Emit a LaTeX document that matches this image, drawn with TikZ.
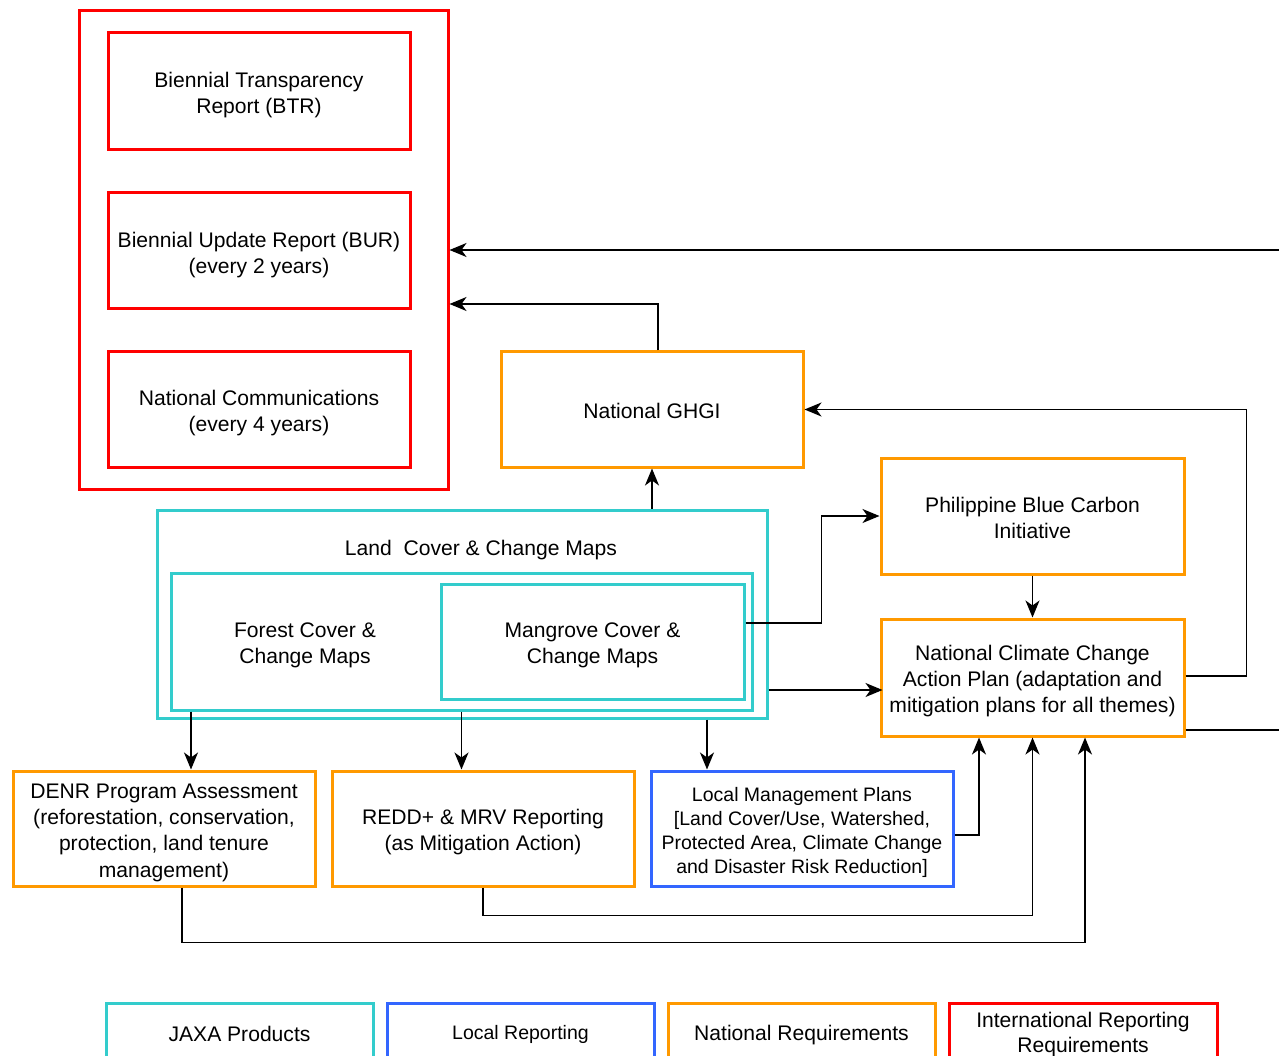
\documentclass[tikz,border=0pt]{standalone}
\usepackage{fontspec}
\setmainfont{Liberation Sans}
\usetikzlibrary{arrows.meta}
\definecolor{cred}{HTML}{FF0000}
\definecolor{corange}{HTML}{FF9900}
\definecolor{cteal}{HTML}{33CCCC}
\definecolor{cblue}{HTML}{3366FF}
\newcommand\bt[2][-4pt]{\raisebox{#1}[\height][\depth]{\begin{tabular}{@{}c@{}}#2\end{tabular}}}
\tikzset{
  box/.style={draw, line width=3pt, inner sep=0pt, fill=none,
    font=\fontsize{21.1}{26.2}\selectfont},
  redbox/.style={box, draw=cred},
  orbox/.style={box, draw=corange},
  tealbox/.style={box, draw=cteal},
  bluebox/.style={box, draw=cblue},
  small/.style={font=\fontsize{19.5}{24}\selectfont},
  arr/.style={line width=1.6pt, -{Stealth[length=17pt, width=14pt, inset=5pt]}},
  ln/.style={line width=1.6pt},
}
\begin{document}
\begin{tikzpicture}[x=1pt, y=-1pt]
\useasboundingbox (0,0) rectangle (1279,1056);
\clip (0,0) rectangle (1279,1056);
% international reporting group
\node[redbox, minimum width=369pt, minimum height=478pt] (intl) at (263.5,250) {};
\node[redbox, minimum width=302pt, minimum height=117pt] (btr) at (259,91.5) {\bt{Biennial Transparency\\Report (BTR)}};
\node[redbox, minimum width=302pt, minimum height=116pt] (bur) at (259,251) {\bt{Biennial Update Report (BUR)\\(every 2 years)}};
\node[redbox, minimum width=302pt, minimum height=115pt] (nc) at (259,409.5) {\bt{National Communications\\(every 4 years)}};
% national
\node[orbox, minimum width=302pt, minimum height=115pt] (ghgi) at (652,409.5) {\bt[-4pt]{National GHGI}};
\node[orbox, minimum width=303pt, minimum height=116pt] (pbc) at (1032.5,516) {\bt{Philippine Blue Carbon\\Initiative}};
\node[orbox, minimum width=303pt, minimum height=117pt] (nccap) at (1032.5,677.5) {\bt{National Climate Change\\Action Plan (adaptation and\\mitigation plans for all themes)}};
% land cover
\node[tealbox, minimum width=610pt, minimum height=208pt] (land) at (462,614) {};
\node[font=\fontsize{21.1}{26.2}\selectfont] (landt) at (481,550) {Land\ \ Cover \& Change Maps};
\node[tealbox, minimum width=581pt, minimum height=137pt] (inner) at (461.5,641.5) {};
\node[font=\fontsize{21.1}{26.2}\selectfont, inner sep=0pt] (forest) at (305,645) {\bt[0pt]{Forest Cover \&\\Change Maps}};
\node[tealbox, minimum width=303pt, minimum height=115pt] (mang) at (592.5,641.5) {\bt{Mangrove Cover \&\\Change Maps}};
% bottom row
\node[orbox, minimum width=302pt, minimum height=115pt] (denr) at (164,828.5) {\bt{DENR Program Assessment\\(reforestation, conservation,\\protection, land tenure\\management)}};
\node[orbox, minimum width=302pt, minimum height=115pt] (redd) at (483,828.5) {\bt{REDD+ \& MRV Reporting\\(as Mitigation Action)}};
\node[bluebox, small, minimum width=302pt, minimum height=115pt] (local) at (802,828.5) {\bt{Local Management Plans\\{[}Land Cover/Use, Watershed,\\Protected Area, Climate Change\\and Disaster Risk Reduction{]}}};
% legend
\node[tealbox, minimum width=267pt, minimum height=60pt] (lg1) at (239.5,1033) {\bt[-3pt]{JAXA Products}};
\node[bluebox, small, minimum width=267pt, minimum height=60pt] (lg2) at (520.5,1033) {\bt[-2pt]{Local Reporting}};
\node[orbox, minimum width=267pt, minimum height=60pt] (lg3) at (801.5,1033) {\bt[-2pt]{National Requirements}};
\node[redbox, minimum width=268pt, minimum height=60pt, font=\fontsize{21.1}{25}\selectfont] (lg4) at (1083,1033) {\bt[-2pt]{International Reporting\\Requirements}};
% edge coordinates
\coordinate (rin) at (1279,250);
\coordinate (rout) at (1279,730);
% connectors
\draw[arr] (rin) -- (intl.east);
\draw[ln] (nccap.east |- rout) -- (rout);
\draw[arr] ([xshift=6pt]ghgi.north) |- ([yshift=-54pt]intl.east);
\draw[arr] (land.north -| ghgi.south) -- (ghgi.south);
\draw[arr] ([yshift=1.5pt]nccap.east) -- ++(61,0) |- (ghgi.east);
\draw[arr] ([yshift=18.5pt]mang.east) -- ++(76,0) |- (pbc.west);
\draw[arr] (pbc.south) -- (nccap.north);
\draw[arr] ([yshift=-76pt]land.east) -- ++(114,0);
\draw[arr] ([xshift=-270.5pt]inner.south) -- ([xshift=-270.5pt]inner.south |- denr.north);
\draw[arr] (inner.south) -- (inner.south |- redd.north);
\draw[arr] ([xshift=245pt]land.south) -- ([xshift=245pt]land.south |- local.north);
\draw[arr] ([yshift=-6.5pt]local.east) -| ([xshift=-53.5pt]nccap.south);
\draw[arr] (redd.south) -- ++(0,28) -| (nccap.south);
\draw[arr] ([xshift=18pt]denr.south) -- ++(0,55) -| ([xshift=52.5pt]nccap.south);
\end{tikzpicture}
\end{document}
